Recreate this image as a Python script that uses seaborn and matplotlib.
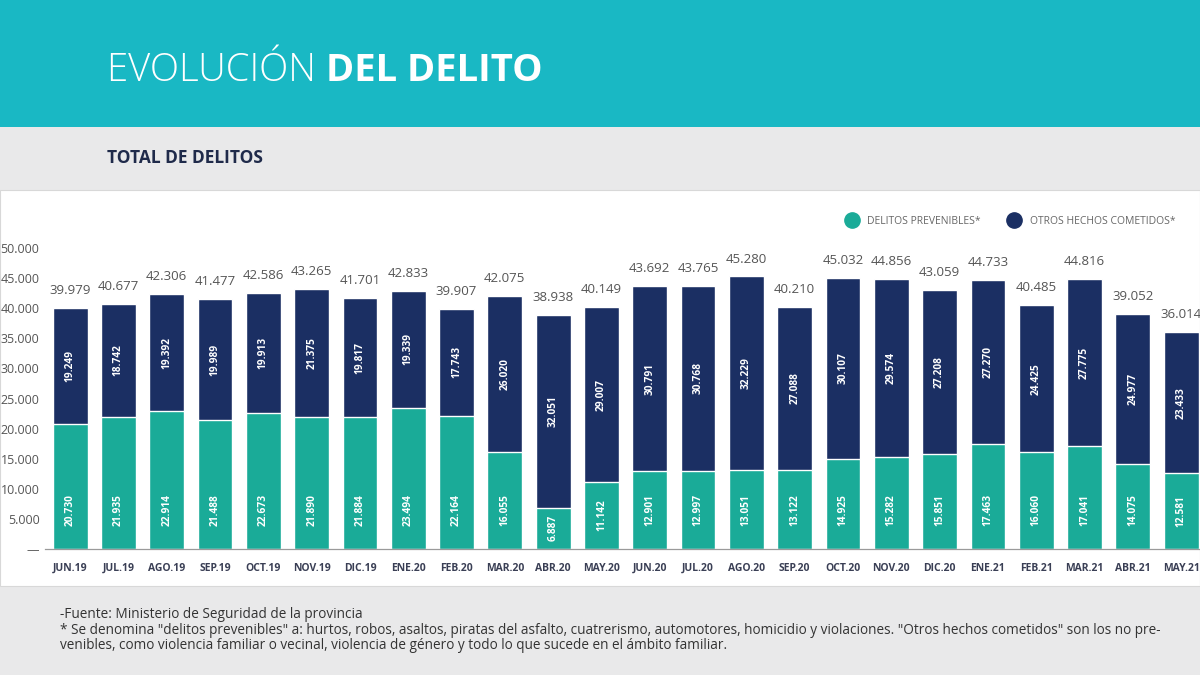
import matplotlib
matplotlib.use("Agg")
import matplotlib.pyplot as plt
import seaborn as sns
import pandas as pd
from matplotlib.patches import Rectangle
from matplotlib.lines import Line2D

# datos
meses = ["JUN.19", "JUL.19", "AGO.19", "SEP.19", "OCT.19", "NOV.19", "DIC.19", "ENE.20",
         "FEB.20", "MAR.20", "ABR.20", "MAY.20", "JUN.20", "JUL.20", "AGO.20", "SEP.20",
         "OCT.20", "NOV.20", "DIC.20", "ENE.21", "FEB.21", "MAR.21", "ABR.21", "MAY.21"]
prevenibles = [20730, 21935, 22914, 21488, 22673, 21890, 21884, 23494, 22164, 16055, 6887, 11142,
               12901, 12997, 13051, 13122, 14925, 15282, 15851, 17463, 16060, 17041, 14075, 12581]
otros = [19249, 18742, 19392, 19989, 19913, 21375, 19817, 19339, 17743, 26020, 32051, 29007,
         30791, 30768, 32229, 27088, 30107, 29574, 27208, 27270, 24425, 27775, 24977, 23433]
totales = [p + o for p, o in zip(prevenibles, otros)]
y_ticks = [0, 5000, 10000, 15000, 20000, 25000, 30000, 35000, 40000, 45000, 50000]

TEAL = "#1aab98"
NAVY = "#1b2f63"
BANNER = "#19b8c4"
GRIS = "#e9e9ea"


def miles(v):
    return f"{v:,}".replace(",", ".")


df = pd.DataFrame({"mes": meses, "prevenibles": prevenibles, "otros": otros, "total": totales})

sns.set_style("white")
plt.rcParams["font.family"] = ["Open Sans", "DejaVu Sans"]

fig = plt.figure(figsize=(12, 6.75), dpi=100)
fig.patch.set_facecolor(GRIS)

# fondos
fig.add_artist(Rectangle((0, 1 - 127 / 675), 1, 127 / 675, transform=fig.transFigure,
                         facecolor=BANNER, edgecolor="none", zorder=0))
fig.add_artist(Rectangle((0, 1 - 586 / 675), 1, (586 - 190) / 675, transform=fig.transFigure,
                         facecolor="white", edgecolor="#d8d8d8", lw=0.8, zorder=0))

# titulo en dos pesos
t1 = fig.text(107 / 1200, 1 - 81 / 675, "EVOLUCIÓN ", color="white", fontsize=27.5,
              fontweight="light", va="baseline", ha="left")
fig.canvas.draw()
bb = t1.get_window_extent()
fig.text(bb.x1 / fig.bbox.width, 1 - 81 / 675, "DEL DELITO", color="white", fontsize=27.5,
         fontweight="bold", va="baseline", ha="left")

fig.text(107 / 1200, 1 - 163 / 675, "TOTAL DE DELITOS", color="#1f2a4a", fontsize=12.5,
         fontweight="bold", va="baseline", ha="left")

ax = fig.add_axes([45 / 1200, 1 - 549 / 675, 1155 / 1200, 301 / 675])
ax.set_facecolor("none")

sns.barplot(data=df, x="mes", y="total", color=NAVY, saturation=1, width=0.72, ax=ax)
sns.barplot(data=df, x="mes", y="prevenibles", color=TEAL, saturation=1, width=0.72, ax=ax)

ax.set_xlim(-0.52, 23.39)
ax.set_ylim(0, 50000)
ax.set_yticks(y_ticks)
ax.set_yticklabels(["—"] + [miles(v) for v in y_ticks[1:]])
ax.tick_params(axis="y", length=0, pad=4, labelsize=9, labelcolor="#555555")
ax.tick_params(axis="x", length=0, pad=10, labelsize=7.5, labelcolor="#3a3f55")
for lab in ax.get_xticklabels():
    lab.set_fontweight("bold")
ax.set_xlabel("")
ax.set_ylabel("")
for s in ["top", "right", "left"]:
    ax.spines[s].set_visible(False)
ax.spines["bottom"].set_color("#9a9a9a")
ax.spines["bottom"].set_linewidth(0.9)

for i, (p, o, t) in enumerate(zip(prevenibles, otros, totales)):
    ax.text(i, t + 1800, miles(t), ha="center", va="bottom", fontsize=9.5, color="#555555")
    ax.text(i, p + o / 2, miles(o), ha="center", va="center", rotation=90, fontsize=7.3,
            fontweight="bold", color="white")
    ax.text(i, min(p / 2, 6500), miles(p), ha="center", va="center", rotation=90, fontsize=7.3,
            fontweight="bold", color="white")

handles = [Line2D([], [], marker="o", ls="", markersize=11, color=TEAL),
           Line2D([], [], marker="o", ls="", markersize=11, color=NAVY)]
fig.legend(handles, ["DELITOS PREVENIBLES*", "OTROS HECHOS COMETIDOS*"], ncol=2,
           loc="center right", bbox_to_anchor=(1185 / 1200, 1 - 221 / 675), frameon=False,
           fontsize=7.5, labelcolor="#666666", handletextpad=0.5, columnspacing=2.2)

nota = ("-Fuente: Ministerio de Seguridad de la provincia\n"
        "* Se denomina \"delitos prevenibles\" a: hurtos, robos, asaltos, piratas del asfalto, "
        "cuatrerismo, automotores, homicidio y violaciones. \"Otros hechos cometidos\" son los no pre-\n"
        "venibles, como violencia familiar o vecinal, violencia de género y todo lo que sucede en el "
        "ámbito familiar.")
fig.text(60 / 1200, 1 - 607 / 675, nota, ha="left", va="top", fontsize=9.8, color="#333333",
         linespacing=1.05)

fig.savefig("out.png", dpi=100, facecolor=fig.get_facecolor())
